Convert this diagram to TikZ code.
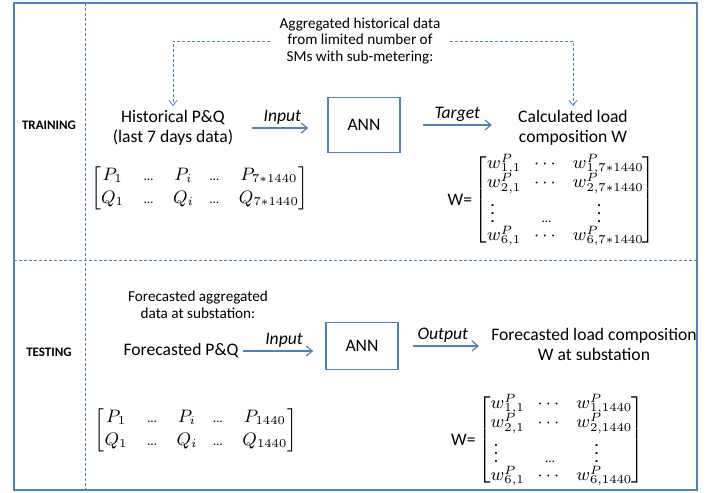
\documentclass[tikz,border=0pt]{standalone}
\usepackage{amsmath}
\usepackage{fontspec}
\setmainfont{Carlito}
\usetikzlibrary{arrows.meta}
\definecolor{frameblue}{RGB}{79,129,189}
\newcommand\tdots{\mbox{\fontsize{6.5}{6.5}\selectfont\char"2026}}
\newcommand\we[1]{w\rlap{\raisebox{3.3pt}{$\scriptstyle P$}}\raisebox{-1.6pt}{$\scriptstyle #1$}}
\begin{document}
\begin{tikzpicture}[x=0.5pt,y=-0.5pt,
  lab/.style={font=\fontsize{6.5}{7.5}\selectfont\bfseries},
  note/.style={align=center,font=\fontsize{7.6}{8.3}\selectfont,inner ysep=2pt,inner xsep=4.5pt},
  txt/.style={align=center,font=\fontsize{8.8}{10}\selectfont,inner sep=2pt},
  annbox/.style={draw=frameblue,line width=0.8pt,minimum width=36pt,font=\fontsize{8.8}{10}\selectfont},
  arr/.style={-{Straight Barb[length=3pt,width=5pt]},frameblue,line width=0.6pt},
  darr/.style={-{Straight Barb[length=2.5pt,width=4pt]},frameblue,line width=0.4pt,dash pattern=on 1.5pt off 1pt},
  sep/.style={frameblue,line width=0.4pt,dash pattern=on 1.5pt off 1pt},
  albl/.style={font=\fontsize{8.8}{10}\selectfont\itshape,inner sep=1.5pt,text=black},
  mat/.style={inner sep=0pt,font=\fontsize{9}{10}\selectfont},
  wmat/.style={inner sep=0pt,font=\fontsize{8.8}{9}\selectfont},
]
\useasboundingbox (0,0) rectangle (709,493);
% frame and separators
\draw[frameblue,line width=1pt] (14,3) rectangle (697,490);
\coordinate (vtop) at (85,3);
\coordinate (vbot) at (85,490);
\coordinate (hl) at (14,260);
\coordinate (hr) at (697,260);
\draw[sep] (vtop) -- (vbot);
\draw[sep] (hl) -- (hr);
% ---------------- TRAINING ----------------
\node[lab] (train) at (49,125) {TRAINING};
\node[note] (topnote) at (360,41) {Aggregated historical data\\from limited number of\\SMs with sub-metering:};
\node[txt] (hist) at (173,128) {Historical P\&Q\\(last 7 days data)};
\node[annbox,minimum height=27.5pt] (ann1) at (364,125) {ANN};
\node[txt] (calc) at (573,128) {Calculated load\\composition W};
\draw[darr] (topnote.west) -| (hist.north);
\draw[darr] (topnote.east) -| (calc.north);
\draw[arr,shorten <=7pt,shorten >=9.5pt] (hist.east) -- (hist.east -| ann1.west)
  node[midway,above,albl] {Input};
\draw[arr,shorten <=11pt,shorten >=11pt] (ann1.east) -- (ann1.east -| calc.west)
  node[midway,above,albl] {Target};
\node[mat] (lm1) at (200,188) {$\left[\begin{array}{@{}c@{\hspace{10pt}}c@{\hspace{10pt}}c@{\hspace{8pt}}c@{\hspace{10pt}}c@{}} P_1 & \tdots & P_i & \tdots & P_{7*1440}\\[1.5pt] Q_1 & \tdots & Q_i & \tdots & Q_{7*1440}\end{array}\right]$};
\node[wmat] (wm1) at (565,200) {$\renewcommand\arraystretch{0.8}\setlength\arraycolsep{3.5pt}\left[\begin{array}{@{}lcl@{}} \we{1,1} & \cdots & \we{1,7*1440}\\[-0.5pt] \we{2,1} & \cdots & \we{2,7*1440}\\[-0.5pt] \,\vdots & \tdots & \hspace{12pt}\vdots\\[-0.5pt] \we{6,1} & \cdots & \we{6,7*1440}\end{array}\right]$};
\node[txt,anchor=east,inner sep=1pt] (weq1) at (wm1.west) {W=};
% ---------------- TESTING ----------------
\node[lab] (test) at (49,352) {TESTING};
\node[note] (note2) at (198,305) {Forecasted aggregated\\data at substation:};
\node[txt] (fpq) at (181,351) {Forecasted P\&Q};
\node[annbox,minimum height=23.5pt] (ann2) at (362,346) {ANN};
\node[txt] (fload) at (594,344) {Forecasted load composition\\W at substation};
\draw[arr,shorten <=0pt,shorten >=6pt] (fpq.east) -- (fpq.east -| ann2.west)
  node[midway,above,albl] {Input};
\draw[arr,shorten <=7pt,shorten >=4pt] (ann2.east) -- (ann2.east -| fload.west)
  node[midway,above,albl] {Output};
\node[mat] (lm2) at (196,430) {$\left[\begin{array}{@{}c@{\hspace{10pt}}c@{\hspace{10pt}}c@{\hspace{8pt}}c@{\hspace{10pt}}c@{}} P_1 & \tdots & P_i & \tdots & P_{1440}\\[1.5pt] Q_1 & \tdots & Q_i & \tdots & Q_{1440}\end{array}\right]$};
\node[wmat] (wm2) at (561,440) {$\renewcommand\arraystretch{0.8}\setlength\arraycolsep{3.5pt}\left[\begin{array}{@{}lcl@{}} \we{1,1} & \cdots & \we{1,1440}\\[-0.5pt] \we{2,1} & \cdots & \we{2,1440}\\[-0.5pt] \,\vdots & \tdots & \hspace{9pt}\vdots\\[-0.5pt] \we{6,1} & \cdots & \we{6,1440}\end{array}\right]$};
\node[txt,anchor=east,inner sep=1pt] (weq2) at (wm2.west) {W=};
\end{tikzpicture}
\end{document}
